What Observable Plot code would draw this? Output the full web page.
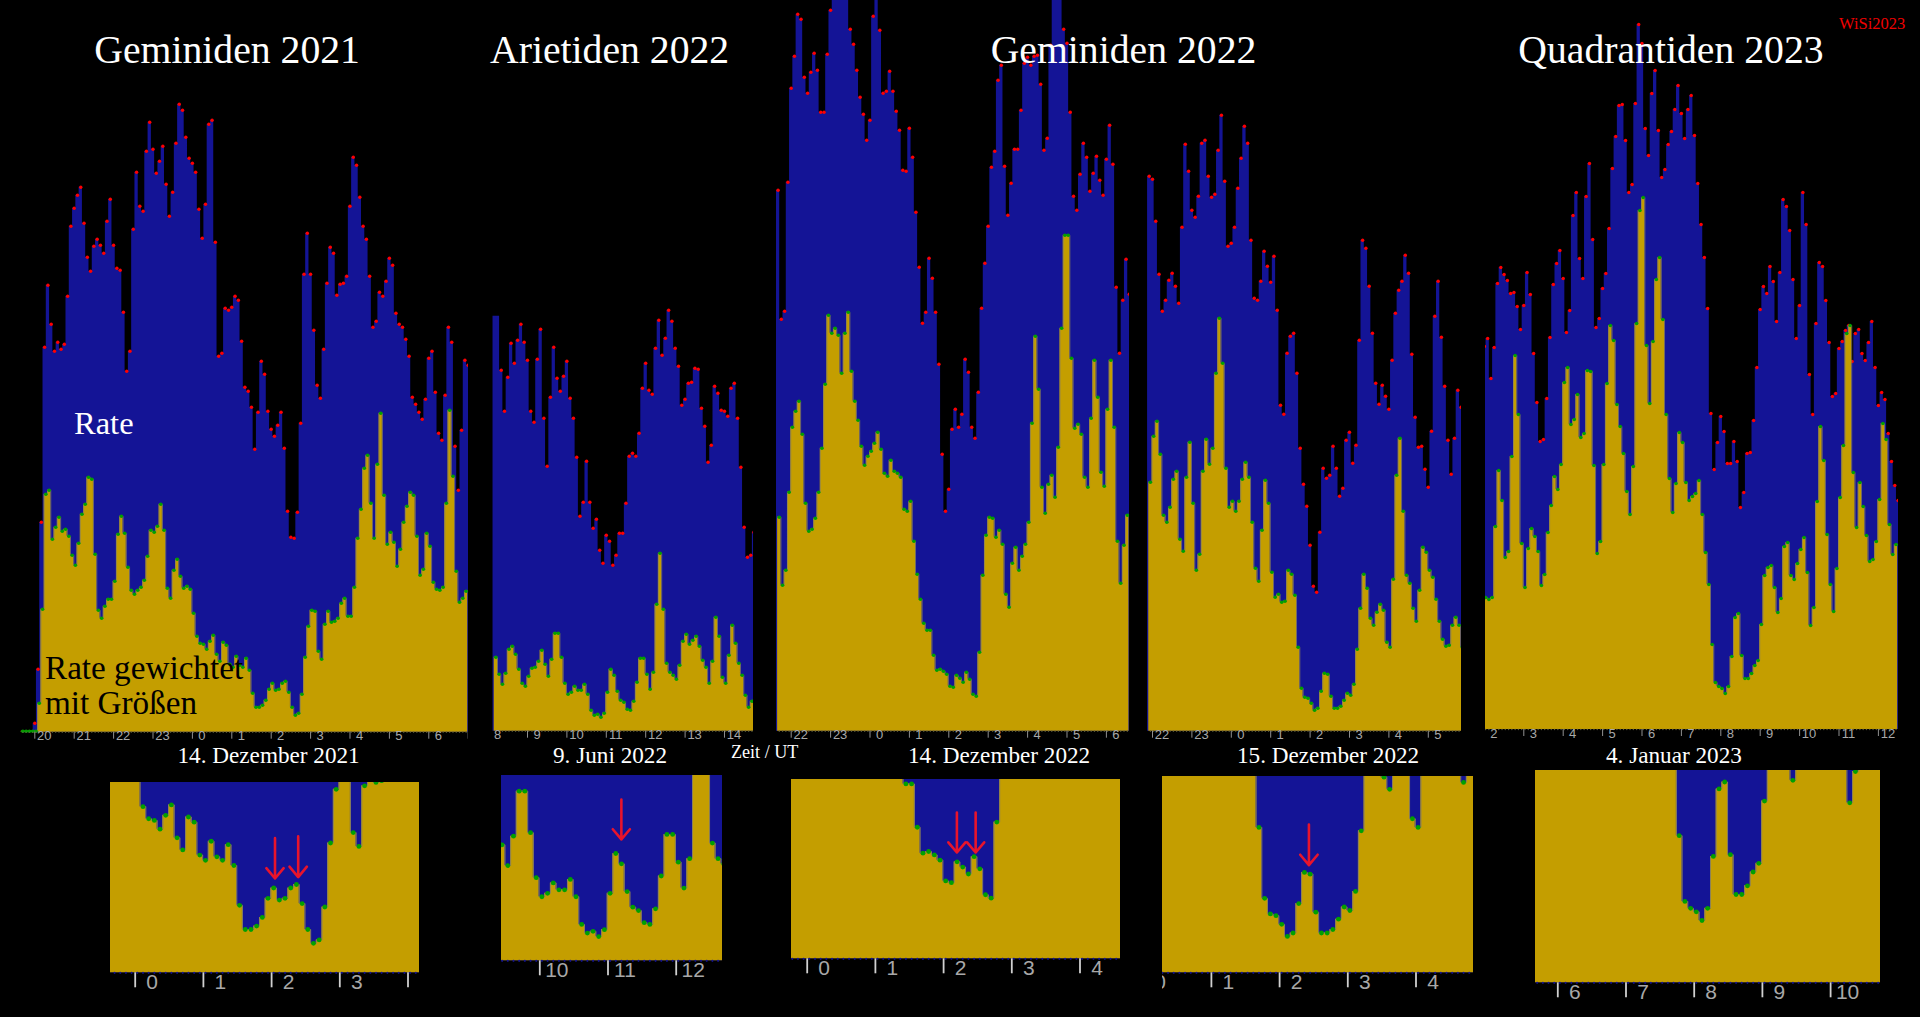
<!DOCTYPE html>
<html><head><meta charset="utf-8">
<script src="https://cdn.jsdelivr.net/npm/d3@7"></script>
<script src="https://cdn.jsdelivr.net/npm/@observablehq/plot@0.6"></script>
<style>
html,body{margin:0;padding:0;background:#000;overflow:hidden}
#page{position:relative;width:1920px;height:1017px;background:#000;overflow:hidden;font-family:"Liberation Serif",serif}
#page svg{position:absolute}
.t{position:absolute;white-space:nowrap;line-height:1;color:#fff}
</style></head><body><div id="page"></div>
<script>
// Rates per 5-minute bin (arbitrary units, no y axis in the original)
const gem21Rate=[0,0,0,0,9,63,210,385,447,408,381,390,383,388,436,506,524,537,545,509,475,461,486,493,487,479,511,533,487,464,462,420,361,381,503,560,526,521,581,610,583,559,571,586,548,516,540,589,628,622,595,574,569,560,523,494,528,608,612,490,376,379,424,422,425,436,432,391,345,341,325,283,320,371,358,321,303,296,307,320,284,221,195,194,220,309,458,499,458,402,347,334,383,449,485,479,437,448,449,456,526,575,567,535,506,493,456,405,411,440,436,451,474,467,419,408,405,393,376,335,328,320,313,333,374,381,340,299,292,337,405,390,286,242,302,372,367];
const gem21Gold=[1,1,1,1,1,29,123,238,242,193,205,215,201,203,196,177,167,189,218,228,255,253,178,122,114,126,133,133,151,198,216,199,165,142,138,142,145,152,176,202,200,206,228,202,144,134,162,173,156,144,146,143,119,96,89,88,83,91,97,78,71,90,87,68,65,76,67,65,74,62,39,25,25,27,32,43,49,42,43,49,51,40,25,17,19,38,75,106,122,121,81,73,108,121,110,111,114,129,134,116,116,145,194,223,264,277,229,194,268,319,237,188,200,190,166,183,210,226,240,237,196,157,163,199,186,150,143,142,145,229,322,256,161,130,134,141];
const ari22Rate=[415,415,361,320,354,388,368,391,407,389,371,320,309,372,402,313,265,334,384,353,340,355,370,333,313,274,215,229,270,229,203,212,181,168,196,190,166,176,198,198,228,275,278,275,298,343,368,341,337,383,411,376,393,421,410,383,365,326,332,348,349,363,362,323,305,269,286,345,338,321,320,315,343,348,313,264,204,174,176,199];
const ari22Gold=[74,57,47,58,82,85,77,62,48,45,55,63,64,70,81,67,55,72,98,98,74,48,37,39,45,41,41,47,37,21,16,17,14,18,39,62,56,40,31,29,22,21,30,49,73,73,57,42,59,127,178,122,68,59,56,52,66,90,97,87,91,95,85,71,64,48,70,114,95,54,48,76,106,88,68,56,36,24,30];
const gem22Rate=[541,412,420,549,643,675,717,712,654,638,659,678,661,619,619,677,721,745,760,770,755,745,702,687,661,634,617,591,611,715,745,701,638,640,660,640,620,601,561,560,603,574,519,464,408,419,473,453,419,367,277,220,242,302,322,304,317,372,359,304,293,339,423,468,505,564,580,651,666,565,516,548,582,582,621,668,674,666,675,676,647,581,593,686,745,760,745,702,688,619,535,521,557,588,574,540,558,575,551,536,572,606,567,444,378,431,472,437];
const gem22Gold=[214,146,161,239,304,320,330,297,228,200,202,213,239,283,347,416,398,403,396,358,398,419,360,330,311,285,266,275,280,288,299,282,258,255,271,260,258,254,222,220,230,190,157,132,108,101,101,76,61,62,60,57,45,44,56,53,49,59,52,37,35,79,156,196,214,213,194,201,187,137,124,168,184,161,175,187,209,308,395,342,244,218,247,256,234,284,403,496,496,373,303,307,297,254,244,313,371,334,259,245,322,371,304,190,148,186,216];
const gem22bRate=[555,552,510,457,420,431,451,458,445,428,504,587,560,521,514,535,588,591,555,534,537,581,616,550,485,488,504,543,573,605,588,491,433,431,450,480,465,449,475,421,326,317,378,395,398,358,283,247,225,186,145,139,199,263,253,256,285,263,235,243,291,299,268,286,391,491,483,445,398,348,327,346,335,322,371,418,441,450,476,458,377,314,284,285,262,244,300,415,450,394,345,291,257,293,341,324];
const gem22bGold=[249,295,310,277,216,209,224,252,260,192,180,254,289,228,161,177,260,292,267,283,358,413,368,263,224,230,220,230,252,269,254,209,163,150,201,251,228,159,134,137,129,130,161,157,136,84,43,34,33,28,21,23,40,58,57,35,23,23,25,31,38,36,47,82,123,157,143,113,106,119,127,121,89,84,152,256,293,220,156,148,123,110,141,184,179,161,154,132,110,92,85,86,106,114,106,84];
const qua23Rate=[383,391,351,382,446,462,455,449,436,437,423,400,424,457,435,376,327,288,290,331,392,445,466,479,451,397,419,514,537,471,451,533,566,490,402,411,441,456,501,561,593,624,625,589,537,545,626,705,686,601,574,636,659,599,552,560,585,598,620,644,616,591,620,634,594,546,505,472,421,316,260,287,313,298,266,266,288,268,222,237,276,277,309,362,420,443,436,463,448,408,457,530,523,499,450,391,424,537,505,355,315,406,467,463,429,387,333,336,381,388,399,404,368,396,400,376,369,387,408,362,324,337,330,296,268,244,229];
const qua23Gold=[132,130,132,203,259,229,172,178,273,374,315,186,142,181,201,193,178,144,155,197,224,253,240,265,347,362,305,310,335,292,296,359,358,264,176,188,265,346,404,389,325,303,276,238,215,263,406,519,532,384,326,388,450,472,410,315,251,217,246,297,287,247,229,233,236,249,215,177,145,85,47,43,41,36,43,73,112,116,74,51,51,56,64,69,105,154,162,164,142,117,131,183,187,154,150,166,180,192,157,104,122,228,303,269,195,145,118,161,232,284,396,404,257,202,247,223,194,168,170,188,230,306,290,205,175,185];

const gem21Ticks=[20,21,22,23,24,25,26,27,28,29,30,31];
const gem21Labels=[20,21,22,23,24,25,26,27,28,29,30];
const ari22Ticks=[8,9,10,11,12,13,14];
const gem22Ticks=[22,23,24,25,26,27,28,29,30];
const gem22bTicks=[22,23,24,25,26,27,28,29];
const qua23Ticks=[2,3,4,5,6,7,8,9,10,11,12];

const gem21Start=20-4/12, ari22Start=9-10/12, gem22Start=22-4/12, gem22bStart=22-1/12, qua23Start=2;

// Red arrows in the magnified panels: hour, arrow tail value, arrow tip value
const gem21Arrows=[{h:26.05,a:77.8,b:54.5},{h:26.39,a:78.8,b:55.3}];
const ari22Arrows=[{h:11.196,a:93.2,b:70.1}];
const gem22Arrows=[{h:26.195,a:84.5,b:61.4},{h:26.47,a:84.5,b:61.4}];
const gem22bArrows=[{h:26.43,a:85.7,b:62.2}];

const BLUE="#141496",GOLD="#c49e00",GREEN="#00a000",RED="#ff0000",GREY="#a8a8a8";
const page=document.getElementById("page");

function drawPanel(o){
  const rate=o.rate.map((v,i)=>({h:o.start+i/12,v}));
  const gold=o.gold.map((v,i)=>({h:o.start+i/12,v}));
  const stepped=a=>[...a.map(d=>({h:d.h-1/24,v:d.v})),{h:a[a.length-1].h+1/24,v:a[a.length-1].v}];
  const w=o.right-o.left, H=o.base-o.top, k=o.k;
  const dom=[o.hour0+(o.left-o.hour0Px)/o.pph,o.hour0+(o.right-o.hour0Px)/o.pph];
  const redDots=rate.slice(o.skipRed||0).filter(d=>d.v>0);
  const big=k>1;
  const chart=Plot.plot({
    width:w,height:H+o.mb,marginLeft:0,marginRight:0,marginTop:0,marginBottom:o.mb,
    x:{domain:dom,label:null},y:{domain:[0,H/k],axis:null},
    style:{background:"transparent",overflow:"hidden"},
    marks:[
      Plot.areaY(stepped(rate),{x:"h",y:"v",curve:"step-after",fill:BLUE}),
      big?null:Plot.dot(redDots,{x:"h",y:"v",r:1.7,fill:RED}),
      Plot.areaY(stepped(gold),{x:"h",y:"v",curve:"step-after",fill:GOLD,dx:o.dx}),
      Plot.lineY(stepped(gold),{x:"h",y:"v",curve:"step-after",stroke:"#8c8258",strokeWidth:big?1:0.8,dx:o.dx}),
      Plot.dot(gold,{x:"h",y:"v",r:big?2.4:1.8,fill:GREEN,dx:o.dx}),
      Plot.dot(gold,{x:"h",y:()=>0,r:big?1.1:0.7,fill:big?"#14148c":"#5a5a3c",dx:o.dx}),
      o.arrows?Plot.arrow(o.arrows,{x:"h",y1:"a",y2:"b",stroke:"#e8142c",strokeWidth:2.6,headLength:9,headAngle:80,bend:0}):null,
      Plot.axisX({ticks:o.ticks,anchor:"bottom",tickSize:o.tickLen,tickFormat:()=>"",stroke:o.tickColor,strokeWidth:big?1.8:1,label:null}),
      Plot.axisX({ticks:o.labels||o.ticks,anchor:"bottom",tickSize:0,tickPadding:o.pad,tickFormat:d=>String(d%24),dx:o.labelDx,
        fill:GREY,fontSize:o.font,fontFamily:"Liberation Sans",fontWeight:"normal",label:null})
    ]
  });
  chart.style.left=o.left+"px";chart.style.top=o.top+"px";
  page.appendChild(chart);
}
const main={top:0,k:1,pph:39.4,mb:20,dx:1.2,tickLen:7,tickColor:"#909090",pad:-1,font:13,labelDx:9.5};
const mag={k:68.2/39.4,pph:68.2,mb:32,dx:2.1,tickLen:15,tickColor:"#d0d0d0",pad:1,font:21,labelDx:17};

drawPanel({...main,rate:gem21Rate,gold:gem21Gold,start:gem21Start,left:20,right:468,base:731.7,hour0:20,hour0Px:34.3,ticks:gem21Ticks,labels:gem21Labels});
drawPanel({...main,rate:ari22Rate,gold:ari22Gold,start:ari22Start,skipRed:2,left:492,right:753,base:730.7,hour0:9,hour0Px:527,ticks:ari22Ticks});
drawPanel({...main,rate:gem22Rate,gold:gem22Gold,start:gem22Start,left:776,right:1129,base:730.7,hour0:22,hour0Px:790.7,ticks:gem22Ticks});
drawPanel({...main,rate:gem22bRate,gold:gem22bGold,start:gem22bStart,left:1147,right:1461,base:730.7,hour0:22,hour0Px:1152,ticks:gem22bTicks});
drawPanel({...main,rate:qua23Rate,gold:qua23Gold,start:qua23Start,left:1485,right:1898,base:729,hour0:3,hour0Px:1523.3,ticks:qua23Ticks});

drawPanel({...mag,rate:gem21Rate,gold:gem21Gold,start:gem21Start,left:110,right:419,top:782,base:972.3,hour0:24,hour0Px:134.7,ticks:[24,25,26,27,28],labels:[24,25,26,27],arrows:gem21Arrows});
drawPanel({...mag,rate:ari22Rate,gold:ari22Gold,start:ari22Start,left:501,right:722,top:775,base:960.3,hour0:10,hour0Px:539.3,ticks:[10,11,12],arrows:ari22Arrows});
drawPanel({...mag,rate:gem22Rate,gold:gem22Gold,start:gem22Start,left:791,right:1120,top:779,base:958.3,hour0:24,hour0Px:806.7,ticks:[24,25,26,27,28],arrows:gem22Arrows});
drawPanel({...mag,rate:gem22bRate,gold:gem22bGold,start:gem22bStart,left:1162,right:1473,top:776,base:972.3,hour0:24,hour0Px:1142.7,ticks:[24,25,26,27,28],arrows:gem22bArrows});
drawPanel({...mag,rate:qua23Rate,gold:qua23Gold,start:qua23Start,left:1535,right:1880,top:770,base:982.3,hour0:6,hour0Px:1557.3,ticks:[6,7,8,9,10]});

function label(text,x,baseline,size,color){
  const d=document.createElement("div");d.className="t";d.textContent=text;
  d.style.fontSize=size+"px";d.style.left=x+"px";d.style.top=(baseline-size*0.8375+1)+"px";
  if(color)d.style.color=color;
  page.appendChild(d);
}
label("Geminiden 2021",94.3,63.3,39.7);
label("Arietiden 2022",490,63.3,39.7);
label("Geminiden 2022",990.7,63.3,39.7);
label("Quadrantiden 2023",1518.3,63.3,39.7);
label("WiSi2023",1839,29,16.5,"#f00000");
label("Rate",74,433,32.5);
label("Rate gewichtet",45,677.7,33.2,"#000");
label("mit Größen",45,713,33.2,"#000");
label("14. Dezember 2021",177.5,762.7,23.2);
label("9. Juni 2022",553,762.7,23.2);
label("14. Dezember 2022",908,762.7,23.2);
label("15. Dezember 2022",1237,762.7,23.2);
label("4. Januar 2023",1606,762.7,23.2);
label("Zeit / UT",731,756.7,18.1);
</script></body></html>
